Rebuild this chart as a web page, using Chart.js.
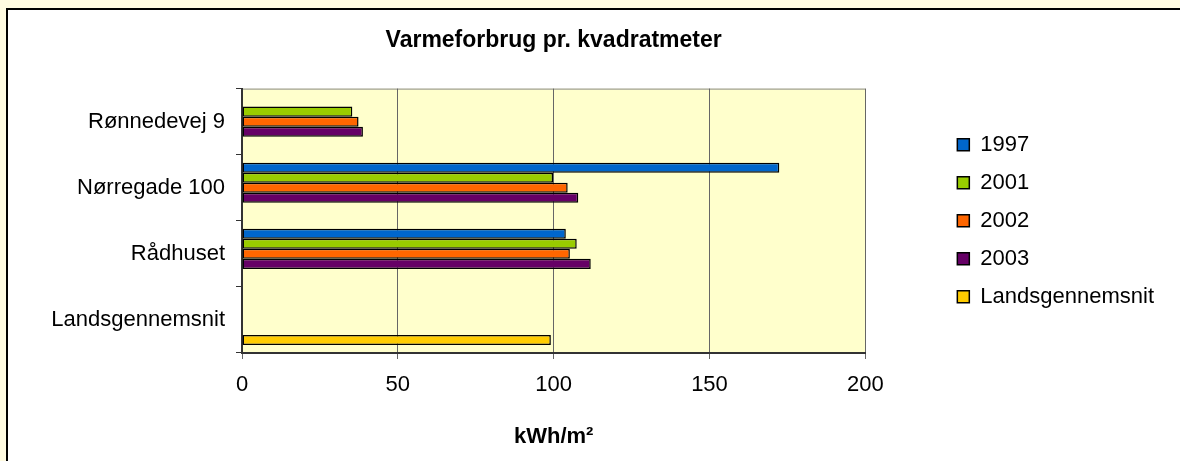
<!DOCTYPE html>
<html>
<head>
<meta charset="utf-8">
<script src="https://cdn.jsdelivr.net/npm/chart.js@4/dist/chart.umd.min.js"></script>
<style>
  body { margin: 0; background: #FFFBE1; overflow: hidden; }
  #frame { position: absolute; left: 6px; top: 8px; width: 1220px; height: 500px; background: #fff; border-left: 2px solid #000; border-top: 2px solid #000; }
  #wrap { position: absolute; left: 0; top: 0; width: 1180px; height: 461px; }
</style>
</head>
<body>
<div id="frame"></div>
<div id="wrap"><canvas id="heatChart" width="1180" height="461"></canvas></div>
<script>
// Data
const buildings = ['Rønnedevej 9', 'Nørregade 100', 'Rådhuset', 'Landsgennemsnit'];
const y1997 = [null, 172.4, 103.9, null];
const y2001 = [35.4, 99.8, 107.4, null];
const y2002 = [37.4, 104.5, 105.2, null];
const y2003 = [38.8, 107.9, 111.9, null];
const national = [null, null, null, 99.1];
const xTicks = [0, 50, 100, 150, 200];

const font = "'Liberation Sans', Arial, sans-serif";

// light yellow plot area
const plotBackground = {
  id: 'plotBackground',
  beforeDraw(chart) {
    const { ctx, chartArea: a } = chart;
    ctx.save();
    ctx.fillStyle = '#FFFFCC';
    ctx.fillRect(a.left, a.top, a.right - a.left, a.bottom - a.top);
    ctx.strokeStyle = '#888';
    ctx.lineWidth = 1;
    ctx.beginPath();
    ctx.moveTo(a.left, a.top + 0.5);
    ctx.lineTo(a.right, a.top + 0.5);
    ctx.stroke();
    ctx.restore();
  }
};

function series(label, data, color) {
  return {
    label: label,
    data: data,
    backgroundColor: color,
    borderColor: '#000',
    borderWidth: 1.5,
    borderSkipped: false
  };
}

const ctx = document.getElementById('heatChart').getContext('2d');

new Chart(ctx, {
  type: 'bar',
  data: {
    labels: buildings,
    datasets: [
      series('1997', y1997, '#0066CC'),
      series('2001', y2001, '#99CC00'),
      series('2002', y2002, '#FF6600'),
      series('2003', y2003, '#660066'),
      series('Landsgennemsnit', national, '#FFCC00')
    ]
  },
  options: {
    indexAxis: 'y',
    responsive: false,
    animation: false,
    categoryPercentage: 0.76,
    barPercentage: 1,
    layout: { padding: { left: 0, right: 16, top: 0, bottom: 0 } },
    plugins: {
      title: {
        display: true,
        text: 'Varmeforbrug pr. kvadratmeter',
        fullSize: false,
        color: '#000',
        font: { family: font, size: 23, weight: 'bold' },
        padding: { top: 27, bottom: 34 }
      },
      legend: {
        position: 'right',
        fullSize: false,
        labels: {
          color: '#000',
          font: { family: font, size: 22 },
          boxWidth: 12,
          boxHeight: 12,
          padding: 16
        }
      },
      tooltip: { enabled: false }
    },
    scales: {
      x: {
        min: 0,
        max: 200,
        afterBuildTicks: scale => { scale.ticks = xTicks.map(v => ({ value: v })); },
        afterFit: scale => { scale.height = 108; },
        ticks: { color: '#000', font: { family: font, size: 22 }, padding: 13 },
        grid: { color: '#666', lineWidth: 1, tickLength: 6 },
        border: { color: '#333', width: 2 },
        title: {
          display: true,
          text: 'kWh/m²',
          color: '#000',
          font: { family: font, size: 22, weight: 'bold' },
          padding: { top: 0, bottom: 11 }
        }
      },
      y: {
        afterFit: scale => { scale.width = 242; },
        ticks: { color: '#000', font: { family: font, size: 22 }, padding: 11 },
        grid: { drawOnChartArea: false, color: '#333', tickLength: 6 },
        border: { color: '#333', width: 2 }
      },
      // empty space between plot and legend
      gap: {
        type: 'linear',
        position: 'right',
        display: false,
        afterFit: scale => { scale.width = 76; }
      }
    }
  },
  plugins: [plotBackground]
});
</script>
</body>
</html>
